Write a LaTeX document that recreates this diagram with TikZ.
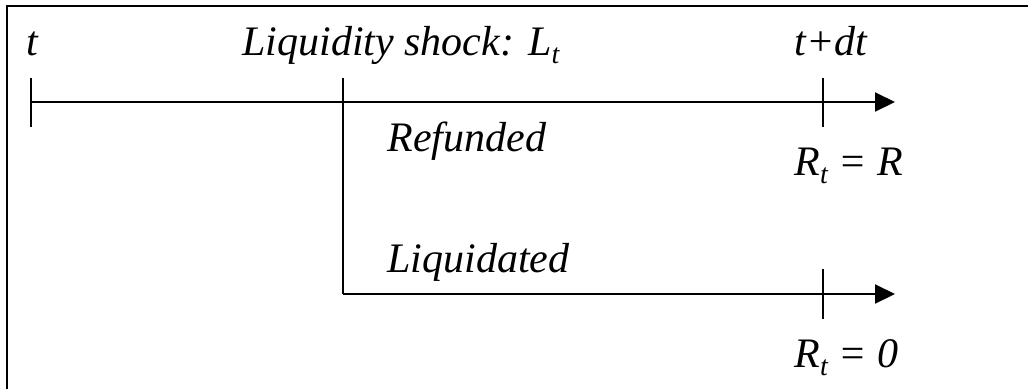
\documentclass[tikz,border=0pt]{standalone}
\usepackage{fontspec}
\setmainfont{Liberation Serif}
\usetikzlibrary{arrows.meta}
\newcommand{\mysub}[1]{\raisebox{-0.2em}{\fontsize{14}{14}\selectfont #1}}
\tikzset{
  frameline/.style={line width=1.3pt, line cap=rect},
  tl/.style={line width=1pt},
  tlarrow/.style={line width=1pt, -{Triangle[length=10pt,width=9.5pt]}},
  lbl/.style={anchor=base west, inner sep=0pt, font=\fontsize{21}{21}\selectfont\itshape},
}
\begin{document}
\begin{tikzpicture}[x=0.5pt,y=-0.5pt]
\useasboundingbox (0,0) rectangle (1028,388);
% frame (right and bottom edges lie outside the picture)
\coordinate (fbl) at (7,400);
\coordinate (ftl) at (7,6);
\coordinate (ftr) at (1040,6);
\draw[frameline] (fbl) -- (ftl) -- (ftr);
% time points
\coordinate (t0) at (31,102);
\coordinate (t0a) at (31,78);
\coordinate (t0b) at (31,127);
\coordinate (sa) at (343,78);
\coordinate (s) at (343,102);
\coordinate (sl) at (343,294);
\coordinate (e1) at (895,102);
\coordinate (e2) at (895,294);
\coordinate (d1a) at (823,78);
\coordinate (d1b) at (823,127);
\coordinate (d2a) at (823,269);
\coordinate (d2b) at (823,319);
% lines
\draw[tlarrow] (t0) -- (e1);
\draw[tl] (t0a) -- (t0b);
\draw[tl] (sa) -- (sl);
\draw[tlarrow] (sl) -- (e2);
\draw[tl] (d1a) -- (d1b);
\draw[tl] (d2a) -- (d2b);
% labels
\node[lbl] (lt) at (26,55) {t};
\node[lbl] (ls) at (242,55) {Liquidity shock: L\mysub{t}};
\node[lbl] (ld) at (794,55) {t+dt};
\node[lbl] (lref) at (387,151) {Refunded};
\node[lbl] (lliq) at (387,272) {Liquidated};
\node[lbl] (lr1) at (794,175) {R\mysub{t} = R};
\node[lbl] (lr2) at (794,367) {R\mysub{t} = 0};
\end{tikzpicture}
\end{document}
